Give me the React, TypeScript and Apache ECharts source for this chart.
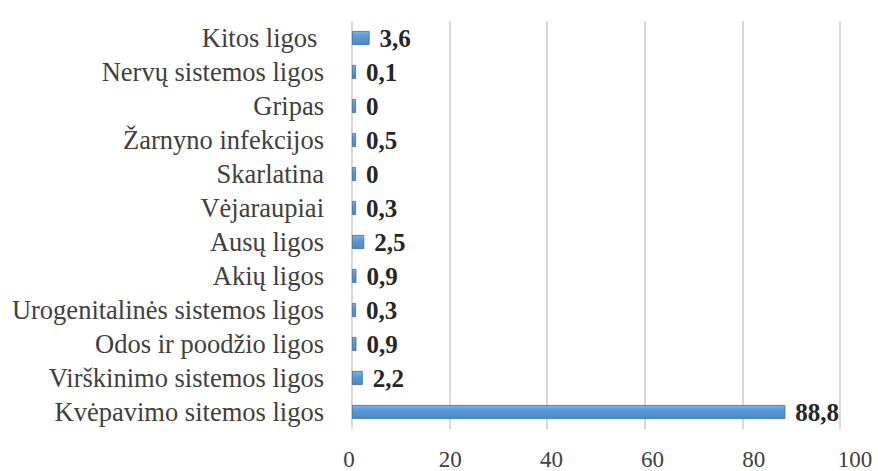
import React, { useEffect, useRef } from "react";
import * as echarts from "echarts";

const categories = [
  "Kvėpavimo sitemos ligos",
  "Virškinimo sistemos ligos",
  "Odos ir poodžio ligos",
  "Urogenitalinės sistemos ligos",
  "Akių ligos",
  "Ausų ligos",
  "Vėjaraupiai",
  "Skarlatina",
  "Žarnyno infekcijos",
  "Gripas",
  "Nervų sistemos ligos",
  "Kitos ligos ",
];
const values = [88.8, 2.2, 0.9, 0.3, 0.9, 2.5, 0.3, 0, 0.5, 0, 0.1, 3.6];
const xTicks = [0, 20, 40, 60, 80, 100];

export default function App() {
  const ref = useRef<HTMLDivElement>(null);
  useEffect(() => {
    if (!ref.current) return;
    const chart = echarts.init(ref.current, null, { renderer: "svg" });
    const xMin = xTicks[0];
    const xMax = xTicks[xTicks.length - 1];
    chart.setOption({
      animation: false,
      backgroundColor: "#ffffff",
      grid: [
        { left: 352, right: 38, top: 21, bottom: 42, containLabel: false },
        // front plane of the 3D chart, used for tick labels only
        { left: 349, right: 23, top: 21, bottom: 42, containLabel: false },
      ],
      xAxis: [
        {
          type: "value",
          gridIndex: 0,
          min: xMin,
          max: xMax,
          interval: 20,
          axisLine: { show: false },
          axisTick: { show: false },
          axisLabel: { show: false },
          splitLine: { show: true, lineStyle: { color: "#d9d9d9", width: 2 } },
        },
        {
          type: "value",
          gridIndex: 1,
          min: xMin,
          max: xMax,
          interval: 20,
          axisLine: { show: false },
          axisTick: { show: false },
          splitLine: { show: false },
          axisLabel: {
            margin: 24,
            color: "#404040",
            fontFamily: "Liberation Serif",
            fontSize: 23,
          },
        },
      ],
      yAxis: [
        {
          type: "category",
          gridIndex: 0,
          data: categories,
          axisLine: { show: false },
          axisTick: { show: false },
          axisLabel: {
            interval: 0,
            margin: 28,
            color: "#404040",
            fontFamily: "Liberation Serif",
            fontSize: 26.5,
          },
        },
        {
          type: "category",
          gridIndex: 1,
          data: categories,
          show: false,
        },
      ],
      series: [
        {
          type: "bar",
          xAxisIndex: 0,
          yAxisIndex: 0,
          data: values,
          barWidth: 14,
          barMinHeight: 4,
          itemStyle: {
            color: new echarts.graphic.LinearGradient(0, 0, 0, 1, [
              { offset: 0, color: "#7fb3e3" },
              { offset: 0.35, color: "#5b9bd5" },
              { offset: 1, color: "#4a88c2" },
            ]),
            borderColor: "#3c6f9e",
            borderWidth: 0.8,
          },
          label: {
            show: true,
            position: "right",
            distance: 10,
            color: "#262626",
            fontFamily: "Liberation Serif",
            fontWeight: "bold",
            fontSize: 25,
            formatter: (p: any) => String(p.value).replace(".", ","),
          },
        },
      ],
    });
    return () => chart.dispose();
  }, []);
  return (
    <div
      ref={ref}
      style={{ position: "absolute", left: 0, top: 0, width: 878, height: 471 }}
    />
  );
}
